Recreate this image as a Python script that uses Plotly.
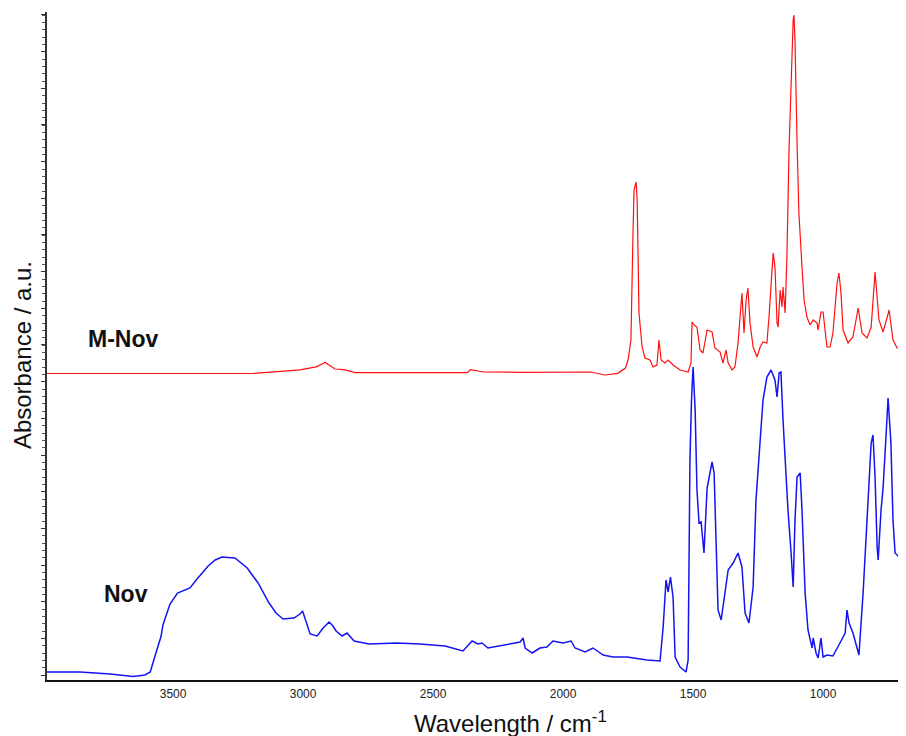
import plotly.graph_objects as go

# ---- M-Nov (red) spectrum: wavenumber (cm-1) and absorbance (a.u.)
mnov_wn = [3985, 3196, 3100, 3012, 2950, 2915, 2877, 2842, 2800, 2369, 2356, 2304, 2158, 2039,
           1892, 1840, 1789, 1760, 1750, 1739, 1735, 1731, 1727, 1719, 1715, 1712, 1708, 1696,
           1685, 1666, 1654, 1639, 1631, 1623, 1608, 1596, 1577, 1550, 1519, 1508, 1504, 1496,
           1485, 1473, 1462, 1446, 1427, 1416, 1396, 1385, 1373, 1365, 1350, 1339, 1327, 1312,
           1304, 1296, 1289, 1281, 1269, 1254, 1242, 1231, 1216, 1208, 1196, 1192, 1185, 1177,
           1173, 1165, 1158, 1154, 1146, 1139, 1131, 1123, 1115, 1112, 1108, 1100, 1093, 1081,
           1073, 1062, 1050, 1038, 1023, 1019, 1008, 1000, 985, 973, 962, 946, 939, 931, 923,
           904, 885, 865, 850, 831, 815, 800, 785, 769, 746, 731, 715, 681]
mnov_abs = [3.065, 3.065, 3.084, 3.102, 3.132, 3.175, 3.11, 3.103, 3.073, 3.073, 3.103, 3.08,
            3.077, 3.077, 3.08, 3.05, 3.067, 3.12, 3.20, 3.40, 3.80, 4.47, 4.90, 4.98, 4.80,
            4.20, 3.67, 3.33, 3.22, 3.20, 3.13, 3.15, 3.40, 3.20, 3.17, 3.20, 3.15, 3.10, 3.08,
            3.17, 3.58, 3.55, 3.53, 3.30, 3.27, 3.50, 3.48, 3.32, 3.28, 3.17, 3.30, 3.17, 3.10,
            3.13, 3.37, 3.87, 3.47, 3.80, 3.92, 3.57, 3.33, 3.23, 3.33, 3.38, 3.37, 3.63, 4.13,
            4.27, 4.13, 3.57, 3.53, 3.90, 3.73, 3.93, 3.67, 4.23, 5.30, 6.07, 6.60, 6.65, 6.40,
            5.37, 4.67, 4.13, 3.80, 3.63, 3.55, 3.60, 3.57, 3.50, 3.68, 3.68, 3.33, 3.33, 3.47,
            3.97, 4.07, 3.87, 3.50, 3.37, 3.43, 3.72, 3.47, 3.42, 3.53, 4.08, 3.60, 3.48, 3.70,
            3.40, 3.32, 3.30]

# ---- Nov (blue) spectrum
nov_wn = [3985, 3858, 3742, 3654, 3608, 3588, 3573, 3562, 3546, 3539, 3523, 3512, 3483, 3435,
          3408, 3365, 3338, 3312, 3262, 3215, 3173, 3131, 3104, 3077, 3035, 3012, 3002, 2989,
          2973, 2946, 2923, 2900, 2885, 2873, 2850, 2831, 2804, 2746, 2639, 2550, 2454, 2385,
          2350, 2327, 2312, 2289, 2242, 2165, 2154, 2146, 2119, 2089, 2062, 2039, 2000, 1969,
          1954, 1915, 1885, 1846, 1808, 1754, 1677, 1627, 1615, 1604, 1596, 1587, 1577, 1569,
          1550, 1527, 1519, 1512, 1506, 1500, 1492, 1485, 1477, 1469, 1458, 1450, 1446, 1435,
          1427, 1419, 1412, 1404, 1392, 1377, 1365, 1346, 1327, 1312, 1300, 1285, 1269, 1258,
          1242, 1231, 1216, 1200, 1185, 1177, 1169, 1162, 1154, 1146, 1135, 1123, 1115, 1108,
          1100, 1088, 1081, 1069, 1058, 1042, 1038, 1027, 1019, 1008, 1000, 985, 962, 935, 915,
          908, 900, 885, 869, 862, 846, 831, 815, 808, 800, 792, 788, 777, 769, 758, 750, 739,
          731, 723, 704, 681]
nov_abs = [0.08, 0.08, 0.06, 0.035, 0.05, 0.08, 0.21, 0.30, 0.44, 0.55, 0.67, 0.76, 0.87, 0.92,
           1.01, 1.14, 1.20, 1.23, 1.22, 1.12, 0.97, 0.77, 0.67, 0.61, 0.62, 0.66, 0.69, 0.58,
           0.46, 0.44, 0.52, 0.58, 0.54, 0.49, 0.44, 0.47, 0.39, 0.36, 0.37, 0.36, 0.34, 0.29,
           0.39, 0.36, 0.37, 0.32, 0.34, 0.38, 0.42, 0.32, 0.27, 0.32, 0.33, 0.39, 0.37, 0.39,
           0.32, 0.28, 0.32, 0.25, 0.23, 0.23, 0.20, 0.19, 0.53, 1.00, 0.88, 1.03, 0.83, 0.23,
           0.13, 0.08, 0.20, 2.20, 2.80, 3.13, 2.70, 1.90, 1.57, 1.58, 1.27, 1.73, 1.92, 2.07,
           2.18, 2.07, 1.40, 0.70, 0.60, 0.87, 1.10, 1.17, 1.27, 1.13, 0.67, 0.57, 0.93, 1.80,
           2.37, 2.80, 3.03, 3.10, 3.00, 2.83, 3.07, 3.08, 2.60, 2.20, 1.70, 1.27, 0.93, 1.60,
           2.03, 2.07, 1.70, 0.87, 0.50, 0.32, 0.42, 0.27, 0.22, 0.42, 0.23, 0.25, 0.24, 0.37,
           0.47, 0.70, 0.57, 0.47, 0.33, 0.25, 0.87, 1.60, 2.37, 2.45, 2.03, 1.33, 1.20, 1.70,
           1.93, 2.43, 2.82, 2.37, 1.60, 1.27, 1.22, 1.16]

x_ticks = [3500, 3000, 2500, 2000, 1500, 1000]
series_labels = ["M-Nov", "Nov"]

FONT = "Liberation Sans, Arial, sans-serif"

fig = go.Figure()
fig.add_trace(go.Scatter(x=mnov_wn, y=mnov_abs, mode="lines", name=series_labels[0],
                         line=dict(color="#ff1010", width=1.2)))
fig.add_trace(go.Scatter(x=nov_wn, y=nov_abs, mode="lines", name=series_labels[1],
                         line=dict(color="#1414f0", width=1.5)))

# the page places the figure 8px in from the top-left corner
fig.update_layout(
    width=898, height=728,
    margin=dict(l=39, r=0, t=4, b=56),
    paper_bgcolor="white", plot_bgcolor="white",
    showlegend=False,
    font=dict(family=FONT, color="#222"),
    xaxis=dict(range=[3985, 681], tickvals=x_ticks, ticktext=[str(v) for v in x_ticks],
               showgrid=False, zeroline=False, showline=True, linecolor="#111", linewidth=2,
               ticks="outside", ticklen=2, tickcolor="rgba(0,0,0,0)",
               tickfont=dict(size=12, color="#222", family=FONT)),
    yaxis=dict(range=[0, 6.68], showgrid=False, zeroline=False, showline=True,
               linecolor="#333", linewidth=2, showticklabels=False,
               ticks="outside", ticklen=4, tickwidth=1, tickcolor="#333",
               tick0=0.4167, dtick=0.36667,
               minor=dict(ticks="outside", ticklen=3, tickwidth=1, tickcolor="#555",
                          tick0=0.05, dtick=0.073333, showgrid=False)),
)

# axis titles
fig.add_annotation(text="Wavelength / cm<sup>-1</sup>", xref="paper", yref="paper",
                   x=0.54, y=-0.063, showarrow=False, xanchor="center", yanchor="middle",
                   font=dict(size=24, color="#111", family=FONT))
fig.add_annotation(text="Absorbance / a.u.", xref="paper", yref="paper",
                   x=-0.029, y=0.4865, showarrow=False, textangle=-90,
                   xanchor="center", yanchor="middle",
                   font=dict(size=24, color="#111", family=FONT))

# series labels
fig.add_annotation(text="<b>M-Nov</b>", x=3835, y=3.41, xref="x", yref="y",
                   showarrow=False, xanchor="left", yanchor="middle",
                   font=dict(size=23, color="#111", family=FONT))
fig.add_annotation(text="<b>Nov</b>", x=3775, y=0.86, xref="x", yref="y",
                   showarrow=False, xanchor="left", yanchor="middle",
                   font=dict(size=23, color="#111", family=FONT))

fig.write_html("out.html")
